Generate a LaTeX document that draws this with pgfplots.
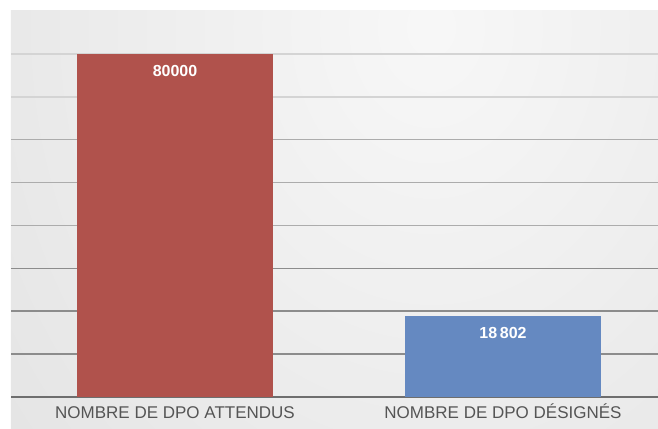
\documentclass[border=0pt]{standalone}
\usepackage{pgfplots}
\pgfplotsset{compat=1.18}
\usepackage{fontspec}
\setmainfont{Liberation Sans}

\definecolor{barred}{RGB}{176,82,76}
\definecolor{barblue}{RGB}{101,137,193}
\definecolor{labelgray}{RGB}{85,85,85}
\definecolor{axisgray}{RGB}{110,110,110}
\definecolor{gridlow}{RGB}{140,140,140}
\definecolor{gridmid}{RGB}{172,172,172}
\definecolor{gridhigh}{RGB}{212,212,212}
\definecolor{paneledge}{RGB}{210,210,210}

% soft light spot towards the top, greying out to the edges
\pgfdeclareradialshading{panelshade}{\pgfpoint{0bp}{0bp}}{%
  color(0bp)=(white!97!black);
  color(50bp)=(paneledge);
  color(100bp)=(paneledge)}

\begin{document}
\begin{tikzpicture}
\useasboundingbox (-5.5pt,-15.5pt) rectangle (323.5pt,198.5pt);
\begin{scope}
  \clip (0pt,-15.5pt) rectangle (323.5pt,193pt);
  \fill[paneledge] (0pt,-15.5pt) rectangle (323.5pt,193pt);
  \shade[shading=panelshade] (210pt,185pt) ellipse (270pt and 330pt);
\end{scope}
\begin{axis}[
  at={(0pt,0pt)}, anchor=south west,
  scale only axis,
  width=323.5pt, height=193pt,
  ybar, bar width=98pt,
  xmin=-0.5, xmax=1.4726,
  ymin=0, ymax=90000,
  axis lines*=left,
  y axis line style={draw=none},
  x axis line style={draw=axisgray, line width=0.8pt},
  xtick={0,1},
  xticklabels={NOMBRE DE DPO ATTENDUS, NOMBRE DE DPO DÉSIGNÉS},
  x tick label style={font=\fontsize{8.5pt}{10pt}\selectfont, text=labelgray, anchor=base, yshift=-10.5pt},
  major tick length=0pt, minor tick length=0pt,
  scaled y ticks=false,
  ytick={10000,20000,30000},
  yticklabel=\empty,
  minor ytick={70000,80000},
  extra y ticks={40000,50000,60000},
  extra y tick labels={},
  ymajorgrids, yminorgrids,
  major grid style={draw=gridlow, line width=0.75pt},
  minor grid style={draw=gridhigh, line width=0.75pt},
  extra y tick style={grid=major, major grid style={draw=gridmid, line width=0.75pt}},
  nodes near coords,
  point meta=explicit symbolic,
  every node near coord/.append style={anchor=center, yshift=-8.5pt, text=white, font=\fontsize{8pt}{9.6pt}\selectfont\bfseries},
]
\addplot[fill=barred, draw=none, bar shift=0pt] table[meta=lab] {
x y lab
0 80000 80000
};
\addplot[fill=barblue, draw=none, bar shift=0pt] table[meta=lab] {
x y lab
1 18802 {18\,802}
};
\end{axis}
\end{tikzpicture}
\end{document}
